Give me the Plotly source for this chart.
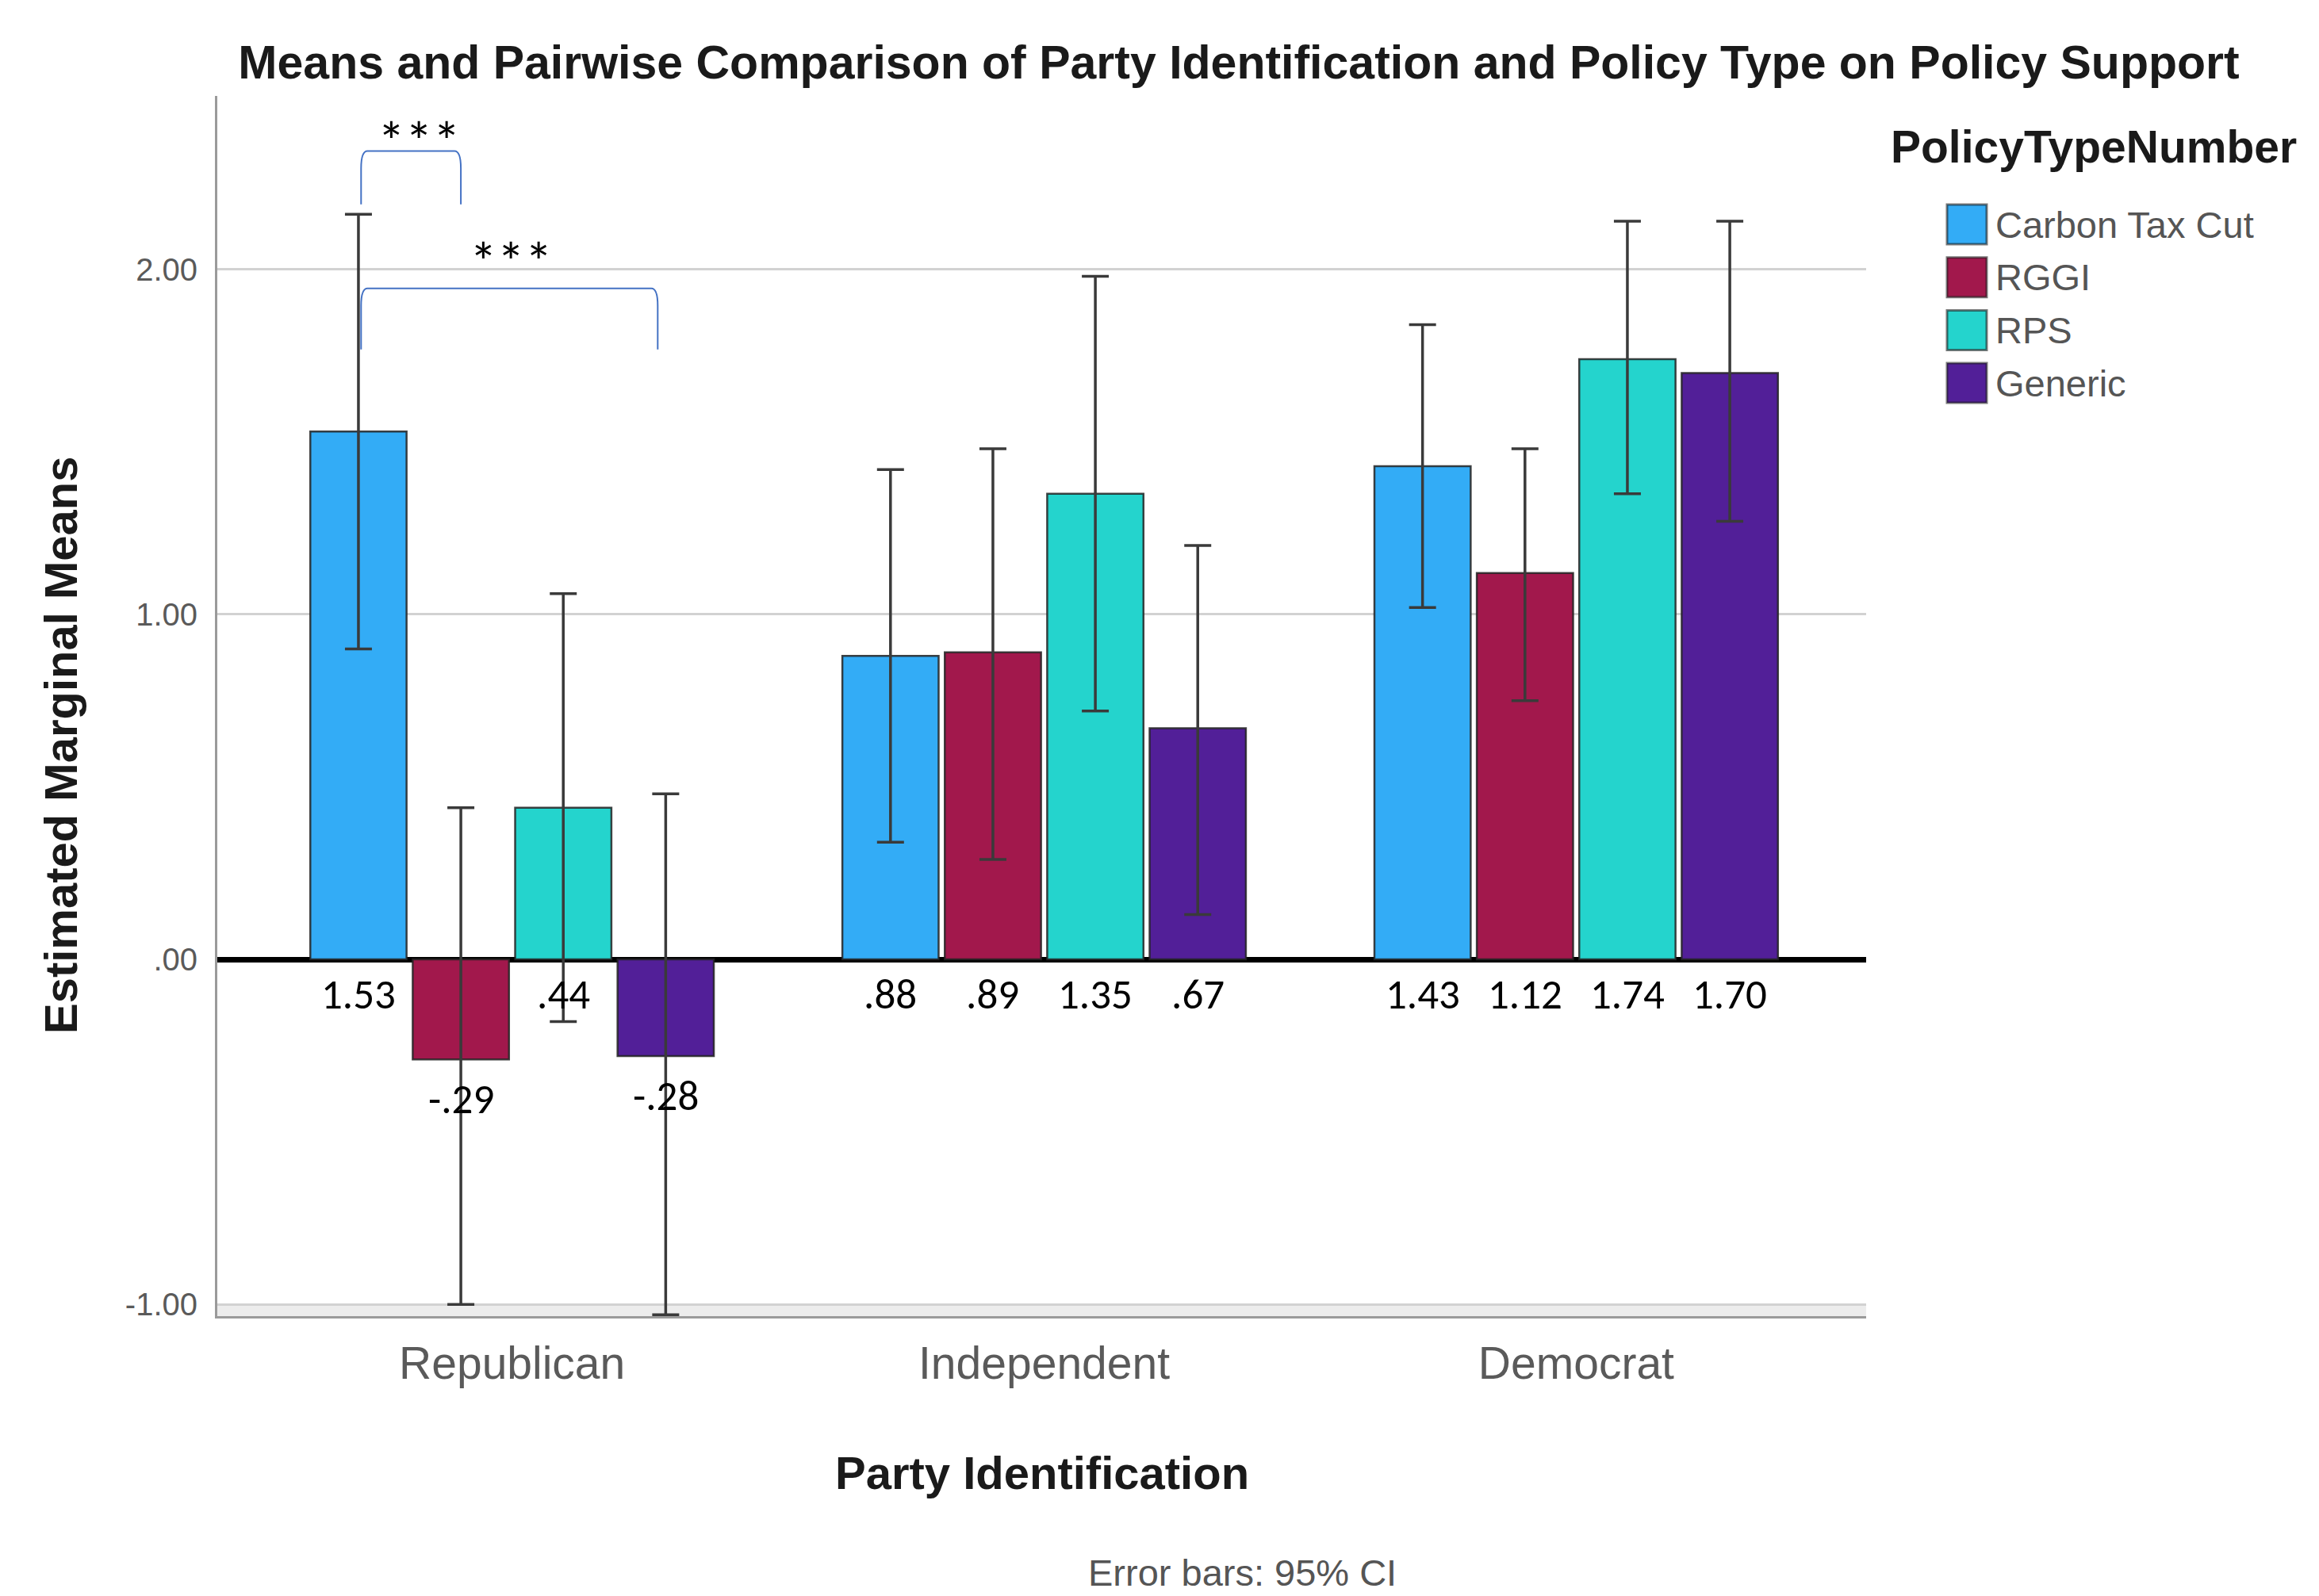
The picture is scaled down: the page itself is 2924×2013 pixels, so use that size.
import plotly.graph_objects as go

# ---------------- data ----------------
parties = ["Republican", "Independent", "Democrat"]
policies = ["Carbon Tax Cut", "RGGI", "RPS", "Generic"]

carbon_mean = [1.53, 0.88, 1.43]
rggi_mean = [-0.29, 0.89, 1.12]
rps_mean = [0.44, 1.35, 1.74]
generic_mean = [-0.28, 0.67, 1.70]

carbon_lo = [0.90, 0.34, 1.02]
rggi_lo = [-1.00, 0.29, 0.75]
rps_lo = [-0.18, 0.72, 1.35]
generic_lo = [-1.03, 0.13, 1.27]

carbon_hi = [2.16, 1.42, 1.84]
rggi_hi = [0.44, 1.48, 1.48]
rps_hi = [1.06, 1.98, 2.14]
generic_hi = [0.48, 1.20, 2.14]

y_tickvals = [-1, 0, 1, 2]
y_ticktext = ["-1.00", ".00", "1.00", "2.00"]

# significance brackets within Republican group: (series a, series b, top y, leg-bottom y)
brackets = [(0, 1, 2.343, 2.189), (0, 3, 1.945, 1.768)]
bracket_text = ["***", "***"]
star_x = [-0.175, -0.002]
star_y = [2.407, 2.058]

means = [carbon_mean, rggi_mean, rps_mean, generic_mean]
los = [carbon_lo, rggi_lo, rps_lo, generic_lo]
his = [carbon_hi, rggi_hi, rps_hi, generic_hi]
colors = ["#33ACF6", "#A2184C", "#24D4CD", "#521F98"]

# ---------------- layout constants ----------------
OFF = 8  # page body margin in the browser
W, H = 2924, 2013
L, R, T, B = 274, 2353, 121, 1660
BARGAP = 0.23
NSER = len(policies)
slot = (1 - BARGAP) / NSER
x_idx = list(range(len(parties)))
XR = [-0.554, 2.545]
YR = [-1.034, 2.503]
SANS = "Liberation Sans, Arial, sans-serif"
CAL = "Carlito, Lato, sans-serif"


def fmt(v):
    s = f"{v:.2f}"
    if s.startswith("0."):
        s = s[1:]
    elif s.startswith("-0."):
        s = "-" + s[2:]
    return s


def paper(xp, yp):
    return (xp - L) / (R - L), (B - yp) / (B - T)


def bar_x(i, j):
    return i + (j - (NSER - 1) / 2) * slot


fig = go.Figure()
for j, name in enumerate(policies):
    fig.add_trace(go.Bar(
        x=x_idx, y=means[j], name=name,
        marker=dict(color=colors[j], line=dict(color="rgba(35,35,35,0.85)", width=2.5)),
        error_y=dict(type="data", symmetric=False,
                     array=[h - m for h, m in zip(his[j], means[j])],
                     arrayminus=[m - l for m, l in zip(means[j], los[j])],
                     color="#3a3a3a", thickness=3.5, width=17),
        showlegend=False,
    ))

annotations = []
# value labels
for j in range(NSER):
    for i in range(len(parties)):
        v = means[j][i]
        ylab = -0.10 if v >= 0 else v - 0.115
        annotations.append(dict(
            x=bar_x(i, j), y=ylab, xref="x", yref="y",
            text=fmt(v), showarrow=False, yanchor="middle", xanchor="center",
            font=dict(family=CAL, size=53, color="#000000")))

shapes = []
# brackets
for (a, b, ytop, ybot), txt, sx, sy in zip(brackets, bracket_text, star_x, star_y):
    x1 = bar_x(0, a) + 0.005
    x2 = bar_x(0, b) - (0.015 if b - a > 1 else 0.0)
    rx, ry = 0.012, 0.05
    path = (f"M {x1},{ybot} L {x1},{ytop - ry} Q {x1},{ytop} {x1 + rx},{ytop} "
            f"L {x2 - rx},{ytop} Q {x2},{ytop} {x2},{ytop - ry} L {x2},{ybot}")
    shapes.append(dict(type="path", path=path, xref="x", yref="y",
                       line=dict(color="#4472C4", width=2)))
    annotations.append(dict(
        x=sx, y=sy - 0.138, xref="x", yref="y",
        text=txt, showarrow=False, yanchor="bottom", xanchor="center",
        font=dict(family=CAL, size=70, color="#000000")))

# faint band at bottom of plot
shapes.append(dict(type="rect", xref="paper", yref="y", x0=0, x1=1, y0=YR[0], y1=-1,
                   fillcolor="#ececec", line=dict(width=0), layer="below"))

# manual legend
leg_sq_x0, leg_sq_x1 = 2455, 2505
leg_y0, leg_dy, leg_h = 283, 66.7, 50
for j, name in enumerate(policies):
    cy = leg_y0 + j * leg_dy
    px0, py0 = paper(leg_sq_x0, cy - leg_h / 2)
    px1, py1 = paper(leg_sq_x1, cy + leg_h / 2)
    shapes.append(dict(type="rect", xref="paper", yref="paper",
                       x0=px0, x1=px1, y0=py1, y1=py0,
                       fillcolor=colors[j], line=dict(color="rgba(30,30,30,0.6)", width=3)))
    tx, ty = paper(2514, cy)
    annotations.append(dict(x=tx, y=ty, xref="paper", yref="paper", text=name,
                            showarrow=False, xanchor="left", yanchor="middle",
                            font=dict(family=SANS, size=47, color="#555555")))

tx, ty = paper(2382, 185)
annotations.append(dict(x=tx, y=ty, xref="paper", yref="paper", text="<b>PolicyTypeNumber</b>",
                        showarrow=False, xanchor="left", yanchor="middle",
                        font=dict(family=SANS, size=57, color="#1a1a1a")))

# axis titles and footnote
tx, ty = paper(1314, 1857)
annotations.append(dict(x=tx, y=ty, xref="paper", yref="paper", text="<b>Party Identification</b>",
                        showarrow=False, xanchor="center", yanchor="middle",
                        font=dict(family=SANS, size=58, color="#1a1a1a")))
tx, ty = paper(76, 940)
annotations.append(dict(x=tx, y=ty, xref="paper", yref="paper", text="<b>Estimated Marginal Means</b>",
                        showarrow=False, xanchor="center", yanchor="middle", textangle=-90,
                        font=dict(family=SANS, size=58, color="#1a1a1a")))
tx, ty = paper(1566, 1983)
annotations.append(dict(x=tx, y=ty, xref="paper", yref="paper", text="Error bars: 95% CI",
                        showarrow=False, xanchor="center", yanchor="middle",
                        font=dict(family=SANS, size=47, color="#555555")))

fig.update_layout(
    width=W, height=H,
    margin=dict(l=L - OFF, r=W - (R - OFF), t=T - OFF, b=H - (B - OFF), autoexpand=False),
    paper_bgcolor="white", plot_bgcolor="white",
    barmode="group", bargap=BARGAP, bargroupgap=0.06,
    title=dict(text="<b>Means and Pairwise Comparison of Party Identification and Policy Type on Policy Support</b>",
               x=(1562 - OFF) / W, y=1 - (78 - OFF) / H, xanchor="center", yanchor="middle",
               font=dict(family=SANS, size=59, color="#1a1a1a")),
    xaxis=dict(range=XR, tickvals=x_idx, ticktext=parties, showgrid=False, zeroline=False,
               showline=True, linecolor="#9a9a9a", linewidth=3, ticks="",
               ticklabelstandoff=8,
               tickfont=dict(family=SANS, size=57, color="#5a5a5a")),
    yaxis=dict(range=YR, tickvals=y_tickvals, ticktext=y_ticktext, showgrid=True,
               gridcolor="#d2d2d2", gridwidth=3, zeroline=True, zerolinecolor="#000000",
               zerolinewidth=7, showline=True, linecolor="#9a9a9a", linewidth=3, ticks="",
               ticklabelstandoff=14,
               tickfont=dict(family=SANS, size=40, color="#5a5a5a")),
    annotations=annotations, shapes=shapes,
)

fig.write_html("out.html")
